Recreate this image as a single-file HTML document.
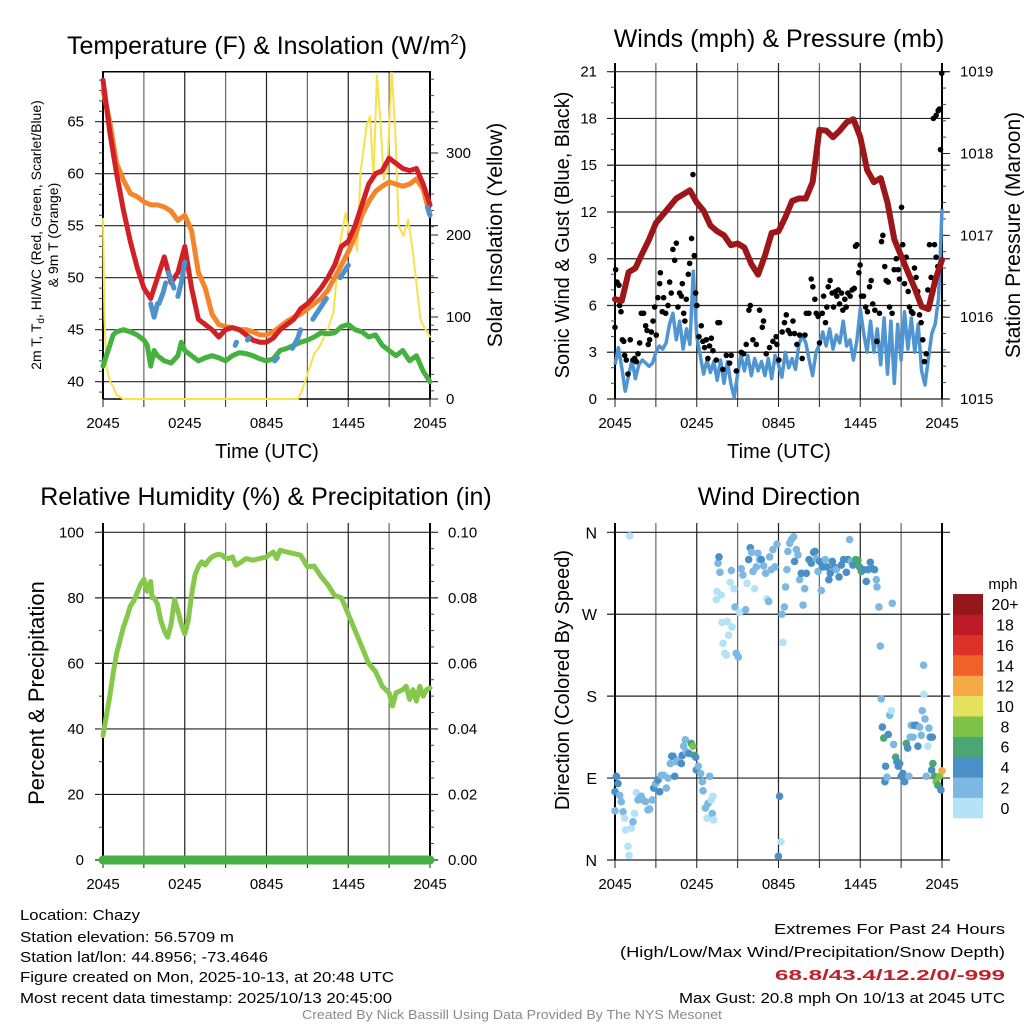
<!DOCTYPE html>
<html><head><meta charset="utf-8"><style>
html,body{margin:0;padding:0;background:#fff;}
svg{display:block;font-family:"Liberation Sans",Arial,sans-serif;}
</style></head><body>
<svg id="chart" xmlns="http://www.w3.org/2000/svg" width="1024" height="1024" viewBox="0 0 1024 1024">
<rect x="0" y="0" width="1024" height="1024" fill="#fff"/>
<g id="p1"></g>
<g id="p2"></g>
<g id="p3"></g>
<g id="p4"></g>
<text x="267" y="54" text-anchor="middle" font-size="25">Temperature (F) &amp; Insolation (W/m<tspan font-size="15" dy="-10">2</tspan><tspan dy="10">)</tspan></text>
<text x="779" y="47" text-anchor="middle" font-size="25">Winds (mph) &amp; Pressure (mb)</text>
<text x="266" y="505" text-anchor="middle" font-size="25">Relative Humidity (%) &amp; Precipitation (in)</text>
<text x="779" y="505" text-anchor="middle" font-size="25">Wind Direction</text>
<text transform="translate(41,235) rotate(-90)" text-anchor="middle" font-size="14">2m T, T<tspan font-size="10" dy="3">d</tspan><tspan dy="-3">, HI/WC (Red, Green, Scarlet/Blue)</tspan></text>
<text transform="translate(58,235) rotate(-90)" text-anchor="middle" font-size="14">&amp; 9m T (Orange)</text>
<text transform="translate(502,235) rotate(-90)" text-anchor="middle" font-size="21">Solar Insolation (Yellow)</text>
<text x="267" y="458" text-anchor="middle" font-size="20">Time (UTC)</text>
<text transform="translate(569,235) rotate(-90)" text-anchor="middle" font-size="20">Sonic Wind &amp; Gust (Blue, Black)</text>
<text transform="translate(1020,235) rotate(-90)" text-anchor="middle" font-size="21">Station Pressure (Maroon)</text>
<text x="779" y="458" text-anchor="middle" font-size="20">Time (UTC)</text>
<text transform="translate(44,693) rotate(-90)" text-anchor="middle" font-size="22">Percent &amp; Precipitation</text>
<text transform="translate(569,680) rotate(-90)" text-anchor="middle" font-size="20">Direction (Colored By Speed)</text>
<g id="cbar"></g>
<text x="1003" y="589" text-anchor="middle" font-size="15">mph</text>
<g font-size="14.5">
<text x="20" y="920" textLength="120" lengthAdjust="spacingAndGlyphs">Location: Chazy</text>
<text x="20" y="942" textLength="214" lengthAdjust="spacingAndGlyphs">Station elevation: 56.5709 m</text>
<text x="20" y="962" textLength="248" lengthAdjust="spacingAndGlyphs">Station lat/lon: 44.8956; -73.4646</text>
<text x="20" y="982" textLength="374" lengthAdjust="spacingAndGlyphs">Figure created on Mon, 2025-10-13, at 20:48 UTC</text>
<text x="20" y="1003" textLength="372" lengthAdjust="spacingAndGlyphs">Most recent data timestamp: 2025/10/13 20:45:00</text>
</g>
<g font-size="15">
<text x="774" y="934" textLength="231" lengthAdjust="spacingAndGlyphs">Extremes For Past 24 Hours</text>
<text x="620" y="957" textLength="385" lengthAdjust="spacingAndGlyphs">(High/Low/Max Wind/Precipitation/Snow Depth)</text>
<text x="775" y="980" textLength="230" lengthAdjust="spacingAndGlyphs" font-weight="bold" fill="#c0202a">68.8/43.4/12.2/0/-999</text>
<text x="679" y="1003" textLength="326" lengthAdjust="spacingAndGlyphs">Max Gust: 20.8 mph On 10/13 at 2045 UTC</text>
</g>
<text x="302" y="1019" textLength="420" lengthAdjust="spacingAndGlyphs" font-size="12.5" fill="#8a8a8a">Created By Nick Bassill Using Data Provided By The NYS Mesonet</text>
</svg>
<script>
// ---- data (hours since 2045 UTC) ----
const xTickLabels = ["2045","0245","0845","1445","2045"];
const tempT = [0,0.5,1,1.5,2,2.5,3,3.5,4,4.5,5,5.5,6,6.5,7,7.5,8,8.5,9,9.5,10,10.5,11,11.5,12,12.5,13,13.5,14,14.5,15,15.5,16,16.5,17,17.5,18,18.5,19,19.5,20,20.5,21,21.5,22,22.5,23,23.5,24];
const airTemp = [69,64,60,56.5,53.5,51,49,48,50,52,49.5,50.5,53,49,46,45.5,45,44.3,45,45.2,45,44.5,44,43.8,43.8,44.2,45,45.5,46,47,47.5,48.2,49,50,51.2,53,53.5,55,57,59,60,60.3,61.5,61,60.5,60.3,60.5,59,57];
const temp9m = [68,65,61,59.4,58.1,57.8,57.3,57,57,56.8,56.4,55.5,56,54.5,50.5,49,46.5,45.5,45.3,45.2,45,45,44.8,44.5,44.5,44.8,45.3,45.8,46.2,46.5,47,47.5,48,48.8,50,51.2,52.5,54,56,57.3,58.3,58.8,59.2,59,58.8,59,59.5,58.5,56];
const dewT = [0,0.25,0.5,0.75,1,1.5,2,2.5,3,3.25,3.5,3.75,4,4.5,5,5.5,5.75,6,6.5,7,7.5,8,8.5,9,9.5,10,10.5,11,11.5,12,12.5,13,13.5,14,14.5,15,15.5,16,16.5,17,17.5,18,18.5,19,19.5,20,20.5,21,21.5,22,22.5,23,23.5,24];
const dewPoint = [41.5,42.5,43.5,44.5,44.8,45,44.8,44.5,44,43.5,41.5,43,42.5,42,41.8,42.5,43.8,43,42.5,42,42.3,42.5,42.3,42,42.5,42.8,42.7,42.5,42.2,42,42.2,43,43.2,43.5,43.8,44,44.3,44.7,44.6,44.7,45.3,45.5,45,44.8,44.3,44.5,43.5,43,42.5,43,42,42.5,41,40];
const hiwcT = [3.5,3.75,4,null,4.1,4.4,4.6,null,4.8,5.0,5.2,null,5.5,5.75,6,null,9.7,9.8,null,10.6,10.7,null,12.6,12.8,null,13.9,14.3,14.5,null,15.4,15.9,16.4,null,17.4,18,null,23.8,24];
const hiwcVal = [47.5,46.2,47.5,null,47.5,48.5,49.5,null,50.5,49.8,49,null,48.2,49.5,51.5,null,43.5,43.8,null,44,44.2,null,42,42.3,null,43.2,44.2,45,null,46,47,48,null,50,51.2,null,56.8,56];
const solarT = [0,0.1,0.25,0.5,0.75,1,1.5,14,14.3,14.6,15,15.5,15.9,16.5,16.9,17.4,17.8,18.1,18.4,18.65,18.9,19.35,19.6,19.85,20.1,20.35,20.6,20.85,21.2,21.45,21.7,22.05,22.4,22.75,23.3,23.55,24];
const solarVal = [220,100,40,22,15,5,0,0,0,10,30,55,64,85,105,190,227,200,207,180,276,333,345,268,395,342,268,280,398,325,211,199,219,178,97,88,76];
const windT = [0,0.25,0.5,0.75,1,1.25,1.5,1.75,2,2.25,2.5,2.75,3,3.25,3.5,3.75,4,4.25,4.5,4.75,5,5.25,5.5,5.75,6,6.25,6.5,6.75,7,7.25,7.5,7.75,8,8.25,8.5,8.75,9,9.25,9.5,9.75,10,10.25,10.5,10.75,11,11.25,11.5,11.75,12,12.25,12.5,12.75,13,13.25,13.5,13.75,14,14.25,14.5,14.75,15,15.25,15.5,15.75,16,16.25,16.5,16.75,17,17.25,17.5,17.75,18,18.25,18.5,18.75,19,19.25,19.5,19.75,20,20.25,20.5,20.75,21,21.25,21.5,21.75,22,22.25,22.5,22.75,23,23.25,23.5,23.75,24];
const windSpeed = [2.2,3.3,2,0.5,1.5,2.5,1.3,2.2,2.5,2.3,2.1,2.3,3,3.4,3.2,3.6,4.8,5.5,3.8,5,3.2,4.5,3.5,8.2,4,2.8,1.6,2.5,1.7,2.4,1.2,2.5,1,2.4,1,0.1,1.6,2.8,1.8,2.8,1.5,2.6,1.8,2.4,1.5,2.6,1.3,2.8,2.2,1.4,3,2,2.6,1.9,3.5,4.1,3.6,2.5,1.5,3,3.5,4.3,3.4,4.5,3.2,4.1,3.6,5,3.4,3.8,2.5,3.7,5.8,4.2,3,5,3,4.5,2.2,5.2,1.6,5,1,4.8,2.5,5.6,3.2,5.2,3,4.8,1.8,0.9,2.6,4.2,4.8,6.5,12.2];
const gustT = [0,0.05,0.15,0.29,0.34,0.44,0.54,0.64,0.71,0.83,0.95,1.12,1.32,1.44,1.56,1.69,1.81,1.93,2.1,2.25,2.35,2.44,2.54,2.67,2.79,2.91,3.03,3.15,3.28,3.33,3.47,3.57,3.72,3.89,4.01,4.13,4.25,4.38,4.5,4.62,4.74,4.87,4.94,5.04,5.13,5.23,5.38,5.48,5.62,5.72,5.82,5.92,6.01,6.16,6.33,6.45,6.58,6.7,6.82,6.94,7.07,7.19,7.43,7.55,7.68,7.92,8.17,8.41,8.53,8.9,9.27,9.44,9.63,9.83,9.93,10.12,10.37,10.61,10.81,10.9,11.1,11.34,11.59,11.83,11.88,12.03,12.27,12.44,12.57,12.71,12.86,13.06,13.18,13.35,13.55,13.74,13.94,14.04,14.23,14.4,14.52,14.67,14.77,14.91,15.01,15.21,15.31,15.45,15.55,15.65,15.79,15.94,16.04,16.19,16.28,16.38,16.48,16.63,16.72,16.87,16.97,17.09,17.26,17.41,17.56,17.65,17.75,17.9,17.99,18.09,18.24,18.39,18.53,18.68,18.8,18.92,19.07,19.22,19.41,19.56,19.66,19.8,19.9,20.05,20.15,20.34,20.49,20.64,20.78,20.88,21.03,21.12,21.25,21.37,21.52,21.61,21.76,21.86,21.98,22.1,22.22,22.35,22.47,22.59,22.71,22.84,22.96,23.08,23.2,23.33,23.45,23.57,23.69,23.37,23.57,23.72,23.81,23.89,23.98];
const gustSpeed = [4.6,8.3,7.5,7.3,6,5.6,3.8,3.7,2.8,2.5,1.6,3.8,2.5,2.6,2.4,2.9,3.6,5.5,5.5,4.7,4.4,3.5,3.8,4.3,5,5.9,4.1,6.5,7.4,8.1,5.6,6.5,5.5,6,7.5,6.8,9.6,8.9,10,5.9,6.8,6.6,7.4,5.5,5,6.4,8,8.7,10.3,14.4,9.2,6.8,6,4,4.7,3.7,3.3,3.8,2.6,3.4,3.9,3.1,2.5,4.9,4.9,1.9,2.8,2.3,2.8,1.8,3,2.9,3.5,5.7,6,3.8,3.5,5.7,4.6,5,2.9,3.3,3.7,4,3.5,2.5,4.3,4.9,5.4,4.4,4.2,5,4.2,3.5,4.1,2.6,4.1,5.5,5.5,7.7,7.2,6.4,5.5,5.3,3.6,5.5,6.6,4.9,5.9,7.2,7.6,6.8,5.9,6.9,6.6,7,6.1,6.8,5.7,6.4,5.9,6.8,6.6,7,7.1,9.8,9.9,8.1,8.6,6.6,6.6,5.9,5.6,7.2,7.6,6.1,5.7,3.7,5.5,10.1,10.5,8.5,7.6,7.5,5.9,5.5,8.3,9,8.3,7.7,12.3,9.9,7.4,9.1,6.9,5.9,5.6,5.5,8.4,7.8,6.9,5.4,4.9,3.8,2.4,2.9,7,9.9,7.8,6.9,9.9,9.1,8.5,18,18.2,18.5,18.6,16,20.9];
const presT = [0,0.5,1,1.5,2,2.5,3,3.5,4,4.5,5,5.5,6,6.5,7,7.5,8,8.5,9,9.5,10,10.5,11,11.5,12,12.5,13,13.5,14,14.5,15,15.5,16,16.5,17,17.5,18,18.5,19,19.5,20,20.5,21,21.5,22,22.5,23,23.5,24];
const pressure = [1016.22,1016.2,1016.55,1016.6,1016.78,1016.95,1017.15,1017.25,1017.35,1017.45,1017.5,1017.55,1017.4,1017.3,1017.12,1017.05,1017,1016.88,1016.9,1016.85,1016.65,1016.52,1016.75,1017.03,1017.05,1017.22,1017.42,1017.45,1017.45,1017.65,1018.29,1018.28,1018.2,1018.28,1018.38,1018.42,1018.2,1017.8,1017.65,1017.7,1017.4,1016.95,1016.75,1016.55,1016.35,1016.13,1016.1,1016.45,1016.7];
const rhT = [0,0.25,0.5,0.75,1,1.25,1.5,1.75,2,2.25,2.5,2.75,3,3.25,3.5,3.6,3.75,4,4.25,4.5,4.75,5,5.25,5.5,5.75,6,6.25,6.5,6.75,7,7.25,7.5,7.75,8,8.25,8.5,8.75,9,9.25,9.5,9.75,10,10.5,11,11.5,12,12.5,12.75,13,13.5,14,14.5,15,15.5,16,16.5,17,17.5,18,18.5,19,19.5,20,20.5,21,21.25,21.5,22,22.25,22.5,22.75,23,23.25,23.5,23.75,24];
const relHum = [38,44,50,57,63,67,71,74,77.5,79,81.5,84,85.7,82,85,80,80,78,73,70,68,72,79.5,76,72,69,73,81,87,89.5,91,90,91.5,92.5,93,93.3,93,92,92,92.5,90,90.5,92,91.5,92,92.5,94,92,94.5,94,93.5,93,89.5,89.7,86.5,84,80.7,80,75,70,65,60,57.5,53,51,47,51,52,53,49,52,48.5,53,50,52,52.5];
const precipT = [0,24];
const precip = [0,0];
const dirT = [0,0,0.1,0.22,0.34,0.46,0.59,0.71,0.78,0.95,1.03,1.08,1.2,1.32,1.44,1.57,1.69,1.81,1.93,2.05,2.25,2.42,2.54,2.74,2.84,2.98,3.16,3.28,3.4,3.57,3.77,3.89,4.06,4.16,4.26,4.38,4.5,4.7,4.87,4.94,5.04,5.16,5.23,5.43,5.6,5.72,5.82,5.92,5.97,6.12,6.29,6.41,6.46,6.63,6.75,6.82,6.95,7.07,7.14,7.19,7.24,7.44,7.48,7.56,7.63,7.7,7.8,7.85,7.93,8.05,8.17,8.24,8.34,8.46,8.54,8.59,8.73,8.81,8.9,9.05,9.15,9.27,9.39,9.59,9.69,9.81,9.93,10.03,10.13,10.25,10.37,10.49,10.62,10.74,10.91,11.06,11.15,11.28,11.35,11.47,11.59,11.74,11.89,11.99,12.08,12.18,12.25,12.33,12.43,12.52,12.62,12.69,12.82,12.94,13.11,13.18,13.31,13.43,13.55,13.67,13.8,13.92,14.04,14.24,14.41,14.58,14.68,14.77,14.9,15.02,15.14,15.26,15.43,15.56,15.7,15.8,15.95,16.09,16.24,16.44,16.61,16.78,16.98,17.1,17.22,17.34,17.46,17.66,17.83,17.95,18.08,18.25,18.44,18.57,18.74,18.88,19.05,19.18,19.23,19.37,19.47,19.54,19.62,19.72,19.81,19.86,19.96,20.06,20.16,20.28,20.35,20.45,20.6,20.69,20.79,20.89,21.01,21.13,21.26,21.38,21.48,21.57,21.67,21.75,21.87,21.99,22.11,22.23,22.36,22.48,22.55,22.65,22.67,22.75,22.85,22.97,23.04,23.14,23.24,23.29,23.33,23.46,23.58,23.7,23.82,23.92,24];
const dirDeg = [54,75,92,84,71,64,53,46,33,15,5,356,35,42,51,74,66,68,70,66,64,55,56,66,79,84,88,75,93,93,79,90,106,114,114,92,108,110,106,115,125,132,119,117,128,125,115,113,99,103,95,86,76,57,46,62,92,66,51,70,44,286,295,326,333,316,291,261,238,227,225,262,247,305,318,256,298,278,227,223,272,320,313,275,304,330,343,338,317,298,322,337,330,330,323,315,287,284,333,319,341,322,347,4,70,20,270,239,278,300,319,339,348,352,355,328,341,335,308,315,280,298,315,330,326,338,339,331,317,328,296,322,330,322,308,315,328,322,319,311,324,330,316,330,352,328,324,330,329,322,317,319,306,319,327,320,319,308,300,278,235,177,146,134,86,103,91,138,159,164,282,127,113,108,103,106,92,95,86,128,123,92,135,148,135,148,148,125,146,137,164,214,182,155,92,125,145,135,99,135,106,92,86,82,92,77,98];
const dirSpeed = [3,5,5,5,3,3,3,1,1,1,1,1,1,3,1,1,3,3,3,3,3,3,3,3,5,3,5,5,3,3,3,3,3,5,5,5,3,3,5,5,3,3,3,5,7,9,7,5,5,3,3,3,3,3,1,3,3,1,3,1,1,1,1,3,5,3,1,1,1,1,1,1,1,1,3,1,1,3,3,3,1,3,3,3,1,5,5,3,3,1,3,3,3,5,3,3,1,3,3,3,3,3,3,5,5,1,3,1,3,3,3,3,3,3,3,5,3,3,3,5,3,3,5,5,5,5,5,3,3,5,3,5,3,5,5,5,5,5,3,5,5,5,5,5,3,3,5,7,7,7,7,5,5,5,5,5,5,3,3,3,3,3,5,7,5,5,3,5,3,1,3,3,7,5,5,5,5,5,5,7,5,3,3,3,3,5,5,5,3,3,3,3,1,3,3,1,3,5,5,5,7,7,9,7,9,5,13];
const speedColors = ["#b4e3f7","#7db8e2","#4a8fc6","#4aa673","#7ec24a","#e6e15c","#f5aa45","#ef6129","#dc3229","#bd1c26","#93171b"];
const speedLabels = ["0","2","4","6","8","10","12","14","16","18","20+"];
const tempTicks = [40,45,50,55,60,65];
const solarTicks = [0,100,200,300];
const windTicks = [0,3,6,9,12,15,18,21];
const presTicks = [1015,1016,1017,1018,1019];
const rhTicks = [0,20,40,60,80,100];
const precipTicks = ["0.00","0.02","0.04","0.06","0.08","0.10"];
const dirTicks = [0,90,180,270,360];
const dirLabels = ["N","E","S","W","N"];

const NS="http://www.w3.org/2000/svg";
function mk(parent,tag,attrs){const e=document.createElementNS(NS,tag);for(const k in attrs)e.setAttribute(k,attrs[k]);parent.appendChild(e);return e;}
function lin(d0,d1,r0,r1){return v=>r0+(v-d0)/(d1-d0)*(r1-r0);}
function pathFrom(ts,vs,sx,sy){let d="",pen=false;for(let i=0;i<ts.length;i++){if(ts[i]===null||vs[i]===null){pen=false;continue;}d+=(pen?"L":"M")+sx(ts[i]).toFixed(1)+","+sy(vs[i]).toFixed(1);pen=true;}return d;}

function frame(g,L,R,T,B,gridTop,xs,hTicks,sy,name){
  for(let h=0;h<=24;h+=3){const x=xs(h);const ln=mk(g,"line",{x1:x,x2:x,y1:gridTop,y2:B,stroke:(h%6===0)?"#222":"#666","stroke-width":1.2});
    
    
    mk(g,"line",{x1:x,x2:x,y1:B,y2:B+8,stroke:"#222","stroke-width":1});}
  hTicks.forEach(v=>{const y=sy(v);const ln=mk(g,"line",{x1:L-8,x2:R+8,y1:y,y2:y,stroke:"#222","stroke-width":1.2});
    
    });
  mk(g,"line",{x1:L,x2:L,y1:gridTop,y2:B,stroke:"#000","stroke-width":2});
  mk(g,"line",{x1:R,x2:R,y1:gridTop,y2:B,stroke:"#000","stroke-width":2});
  for(let i=0;i<xTickLabels.length;i++){const t=mk(g,"text",{x:xs(i*6),y:B+29,"text-anchor":"middle","font-size":15});t.textContent=xTickLabels[i];
    
    }
}
function minorTicks(g,x,dir,y0,y1,step){for(let y=y0;y<=y1+0.1;y+=step){mk(g,"line",{x1:x,x2:x+dir*4,y1:y,y2:y,stroke:"#444","stroke-width":1});}}

// ===== Panel 1 =====
(function(){
 const g=document.getElementById("p1");const L=103,R=430,T=71.7,B=399;
 const xs=lin(0,24,L,R);const sy=lin(40,65,381.7,121.7);const ss=lin(0,300,399,153);
 frame(g,L,R,T,B,71,xs,tempTicks,sy);
 mk(g,"line",{x1:L,x2:R,y1:T,y2:T,stroke:"#000","stroke-width":1.5});
 mk(g,"line",{x1:L,x2:R,y1:B,y2:B,stroke:"#000","stroke-width":1.5});
 minorTicks(g,L,-1,sy(69),B,10.4);minorTicks(g,R,1,ss(390),B,16.4);
 tempTicks.forEach(v=>{const t=mk(g,"text",{x:84,y:sy(v)+5,"text-anchor":"end","font-size":15});t.textContent=v;
   });
 solarTicks.forEach(v=>{mk(g,"line",{x1:R,x2:R+8,y1:ss(v),y2:ss(v),stroke:"#222"});const t=mk(g,"text",{x:446,y:ss(v)+5,"font-size":15});t.textContent=v;
   });
 const series=[[solarT,solarVal,ss,"#f9e04d",2,"solar-line"],[dewT,dewPoint,sy,"#45b23f",5,"dewpoint-line"],[tempT,temp9m,sy,"#f5852a",5,"temp-9m-line"],[tempT,airTemp,sy,"#d12127",5,"temp-2m-line"],[hiwcT,hiwcVal,sy,"#4b92cf",5,"heat-index-line"]];
 series.forEach(s=>{const p=mk(g,"path",{d:pathFrom(s[0],s[1],xs,s[2]),fill:"none",stroke:s[3],"stroke-width":s[4],"stroke-linejoin":"round","stroke-linecap":"round"});
   });
})();

// ===== Panel 2 =====
(function(){
 const g=document.getElementById("p2");const L=615,R=942,T=71.7,B=399;
 const xs=lin(0,24,L,R);const sy=lin(0,21,399,71.7);const sp=lin(1015,1019,399,71.7);
 frame(g,L,R,T,B,63,xs,windTicks,sy);
 minorTicks(g,L,-1,T,B,15.58);minorTicks(g,R,1,T,B,16.36);
 windTicks.forEach(v=>{const t=mk(g,"text",{x:597,y:sy(v)+5,"text-anchor":"end","font-size":15});t.textContent=v;
   });
 presTicks.forEach(v=>{mk(g,"line",{x1:R,x2:R+8,y1:sp(v),y2:sp(v),stroke:"#222"});const t=mk(g,"text",{x:960,y:sp(v)+5,"font-size":15});t.textContent=v;
   });
 let p=mk(g,"path",{d:pathFrom(windT,windSpeed,xs,sy),fill:"none",stroke:"#4f95d1","stroke-width":3.5,"stroke-linejoin":"round"});
 
 for(let i=0;i<gustT.length;i++){const c=mk(g,"circle",{cx:xs(gustT[i]),cy:sy(gustSpeed[i]),r:2.8,fill:"#000"});
   }
 p=mk(g,"path",{d:pathFrom(presT,pressure,xs,sp),fill:"none",stroke:"#9b1719","stroke-width":6,"stroke-linejoin":"round","stroke-linecap":"round"});
 
})();

// ===== Panel 3 =====
(function(){
 const g=document.getElementById("p3");const L=103,R=430,T=523,B=860;
 const xs=lin(0,24,L,R);const sy=lin(0,100,860,532.3);const sq=lin(0,0.1,860,532.3);
 frame(g,L,R,T,B,523,xs,rhTicks,sy);
 minorTicks(g,L,-1,532.3,B,32.77);minorTicks(g,R,1,532.3,B,16.38);
 rhTicks.forEach(v=>{const t=mk(g,"text",{x:84,y:sy(v)+5,"text-anchor":"end","font-size":15});t.textContent=v;
   });
 precipTicks.forEach(v=>{const t=mk(g,"text",{x:448,y:sq(+v)+5,"font-size":15});t.textContent=v;
   });
 let p=mk(g,"path",{d:pathFrom(rhT,relHum,xs,sy),fill:"none",stroke:"#86c84b","stroke-width":5,"stroke-linejoin":"round","stroke-linecap":"round"});
 
 p=mk(g,"path",{d:pathFrom(precipT,precip,xs,sq),fill:"none",stroke:"#44b043","stroke-width":9,"stroke-linecap":"round"});
 
})();

// ===== Panel 4 =====
(function(){
 const g=document.getElementById("p4");const L=615,R=942,T=523,B=860;
 const xs=lin(0,24,L,R);const sd=lin(0,360,860,532.3);
 frame(g,L,R,T,B,523,xs,dirTicks,sd);
 dirTicks.forEach((v,i)=>{const t=mk(g,"text",{x:597,y:sd(v)+6,"text-anchor":"end","font-size":16});t.textContent=dirLabels[i];
   });
 for(let i=0;i<dirT.length;i++){const ci=Math.min(10,Math.floor(dirSpeed[i]/2));
   const c=mk(g,"circle",{cx:xs(dirT[i]),cy:sd(dirDeg[i]),r:3.8,fill:speedColors[ci]});
   }
 const cb=document.getElementById("cbar");const h=(818-594)/11;
 for(let i=0;i<11;i++){const y=818-(i+1)*h;
   const r=mk(cb,"rect",{x:953,y:y,width:30,height:h+0.3,fill:speedColors[i]});
   
   const t=mk(cb,"text",{x:1005,y:y+h/2+6,"text-anchor":"middle","font-size":16});t.textContent=speedLabels[i];
   }
})();
</script>
</body></html>
